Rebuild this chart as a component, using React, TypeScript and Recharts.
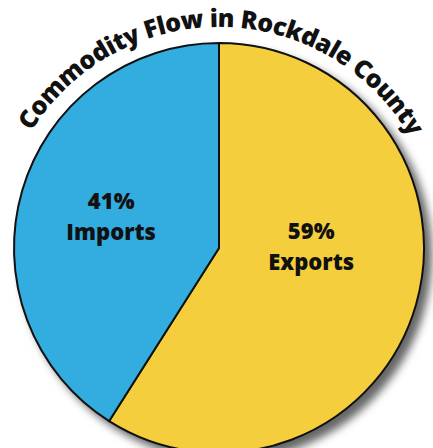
import React from "react";
import { PieChart, Pie, Cell } from "recharts";

const categories = ["Exports", "Imports"];
const shares = [59, 41];
const title = "Commodity Flow in Rockdale County";

const colors = ["#F5CE3E", "#33ACE0"];
// label placement (polar, relative to pie centre): radius fraction, angle in degrees
const labelPlacement = [
  { r: 0.45, angle: 2 },
  { r: 0.55, angle: 163 },
];

const data = categories.map((name, i) => ({ name, value: shares[i] }));

const W = 433;
const H = 448;
const CX = 219;
const CY = 248;
const R = 205;
const RADIAN = Math.PI / 180;
const FONT = "'Open Sans', Lato, sans-serif";

const renderLabel = (props: any) => {
  const { cx, cy, outerRadius, index } = props;
  const p = labelPlacement[index];
  const x = cx + outerRadius * p.r * Math.cos(p.angle * RADIAN);
  const y = cy - outerRadius * p.r * Math.sin(p.angle * RADIAN);
  return (
    <text
      x={x}
      y={y}
      textAnchor="middle"
      fill="#111"
      fontFamily={FONT}
      fontWeight={800}
      fontSize={22}
    >
      <tspan x={x} dy={-6}>{`${shares[index]}%`}</tspan>
      <tspan x={x} dy={31}>{categories[index]}</tspan>
    </text>
  );
};

export default function App() {
  const TR = 221;
  const arc = `M ${CX - TR} ${CY} A ${TR} ${TR} 0 0 1 ${CX + TR} ${CY}`;
  return (
    <div style={{ position: "absolute", left: 0, top: 0, width: W, height: H, background: "#fff", overflow: "hidden" }}>
      <style>{`.recharts-pie:has(.shadowPie) { filter: drop-shadow(7px 7px 4px rgba(0,0,0,0.6)); }`}</style>
      <PieChart width={W} height={H} margin={{ top: 0, right: 0, bottom: 0, left: 0 }}>
        <Pie
          className="shadowPie"
          data={data}
          dataKey="value"
          nameKey="name"
          cx={CX}
          cy={CY}
          outerRadius={R}
          startAngle={90}
          endAngle={-270}
          stroke="#111"
          strokeWidth={2}
          label={false}
          labelLine={false}
          isAnimationActive={false}
        >
          {data.map((d, i) => (
            <Cell key={d.name} fill={colors[i]} />
          ))}
        </Pie>
        <Pie
          data={data}
          dataKey="value"
          nameKey="name"
          cx={CX}
          cy={CY}
          outerRadius={R}
          startAngle={90}
          endAngle={-270}
          fill="none"
          stroke="none"
          label={renderLabel}
          labelLine={false}
          isAnimationActive={false}
        >
          {data.map((d) => (
            <Cell key={d.name} fill="none" stroke="none" />
          ))}
        </Pie>
      </PieChart>
      <svg width={W} height={H} style={{ position: "absolute", left: 0, top: 0, pointerEvents: "none" }}>
        <defs>
          <path id="titleArc" d={arc} fill="none" />
        </defs>
        <text fontFamily={FONT} fontWeight={800} fontSize={25} fill="#111">
          <textPath href="#titleArc" startOffset="50.5%" textAnchor="middle" textLength={455} lengthAdjust="spacing">
            {title}
          </textPath>
        </text>
      </svg>
    </div>
  );
}
